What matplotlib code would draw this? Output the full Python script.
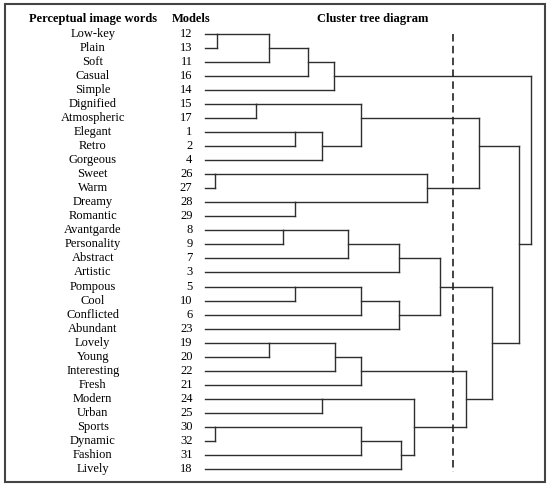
import numpy as np
import matplotlib
matplotlib.use("Agg")
import matplotlib.pyplot as plt
from matplotlib.patches import Rectangle

plt.rcParams['font.family'] = ['Liberation Serif', 'DejaVu Serif']

# leaf order, top to bottom
words = ["Low-key", "Plain", "Soft", "Casual", "Simple", "Dignified",
         "Atmospheric", "Elegant", "Retro", "Gorgeous", "Sweet", "Warm",
         "Dreamy", "Romantic", "Avantgarde", "Personality", "Abstract",
         "Artistic", "Pompous", "Cool", "Conflicted", "Abundant", "Lovely",
         "Young", "Interesting", "Fresh", "Modern", "Urban", "Sports",
         "Dynamic", "Fashion", "Lively"]
models = [12, 13, 11, 16, 14, 15, 17, 1, 2, 4, 26, 27, 28, 29, 8, 9, 7,
          3, 5, 10, 6, 23, 19, 20, 22, 21, 24, 25, 30, 32, 31, 18]

# merges: (left id, right id, rescaled distance)
# ids < 32 are leaf rows, id 32+k is the k-th merge
merge_left = [0, 10, 28, 5, 32, 22, 14, 7, 12, 18, 36, 26, 39, 42, 37,
              38, 35, 41, 46, 34, 47, 49, 51, 43, 33, 52, 50, 48, 57, 59, 45]
merge_right = [1, 11, 29, 6, 2, 23, 15, 8, 13, 19, 3, 27, 9, 4, 24,
               16, 44, 20, 25, 30, 17, 21, 31, 54, 40, 53, 55, 56, 58, 60, 61]
merge_dist = [0.9, 0.8, 0.8, 3.9, 4.9, 4.9, 6.0, 6.9, 6.9, 6.9, 7.9, 9.0,
              9.0, 9.9, 10.0, 11.0, 12.0, 12.0, 12.0, 12.0, 14.9, 14.9,
              15.0, 16.0, 17.0, 18.0, 20.0, 21.0, 22.0, 24.1, 25.0]
cut_dist = 19.0

n = len(words)
line_col = '#2e2e2e'

fig = plt.figure(figsize=(5.5, 4.88), dpi=100)
ax = fig.add_axes([0, 0, 1, 1])
ax.set_xlim(-15.72, 26.46)
ax.set_ylim(32.36, -2.42)
ax.axis('off')

pos = {i: (float(i), 0.0) for i in range(n)}
for k, (a, b, d) in enumerate(zip(merge_left, merge_right, merge_dist)):
    ya, ha = pos[a]
    yb, hb = pos[b]
    ax.plot([ha, d], [ya, ya], color=line_col, lw=1.0)
    ax.plot([hb, d], [yb, yb], color=line_col, lw=1.0)
    ax.plot([d, d], [ya, yb], color=line_col, lw=1.0)
    pos[n + k] = (float(np.floor((ya + yb) / 2)), d)

ax.plot([cut_dist, cut_dist], [0, n - 0.8], color='#222222', lw=1.2,
        linestyle=(0, (4.5, 2.6)))

for i, (w, m) in enumerate(zip(words, models)):
    ax.text(-8.6, i, w, ha='center', va='center', fontsize=9)
    ax.text(-0.96, i, str(m), ha='right', va='center', fontsize=9)

ax.text(-8.6, -1.07, "Perceptual image words", ha='center', va='center',
        fontsize=9, fontweight='bold')
ax.text(-1.1, -1.07, "Models", ha='center', va='center',
        fontsize=9, fontweight='bold')
ax.text(12.9, -1.07, "Cluster tree diagram", ha='center', va='center',
        fontsize=9, fontweight='bold')

fig.add_artist(Rectangle((5 / 550, 6 / 488), 540 / 550, 478 / 488,
                         transform=fig.transFigure, fill=False,
                         edgecolor='#444444', lw=1.5))

fig.savefig("out.png", dpi=100)
